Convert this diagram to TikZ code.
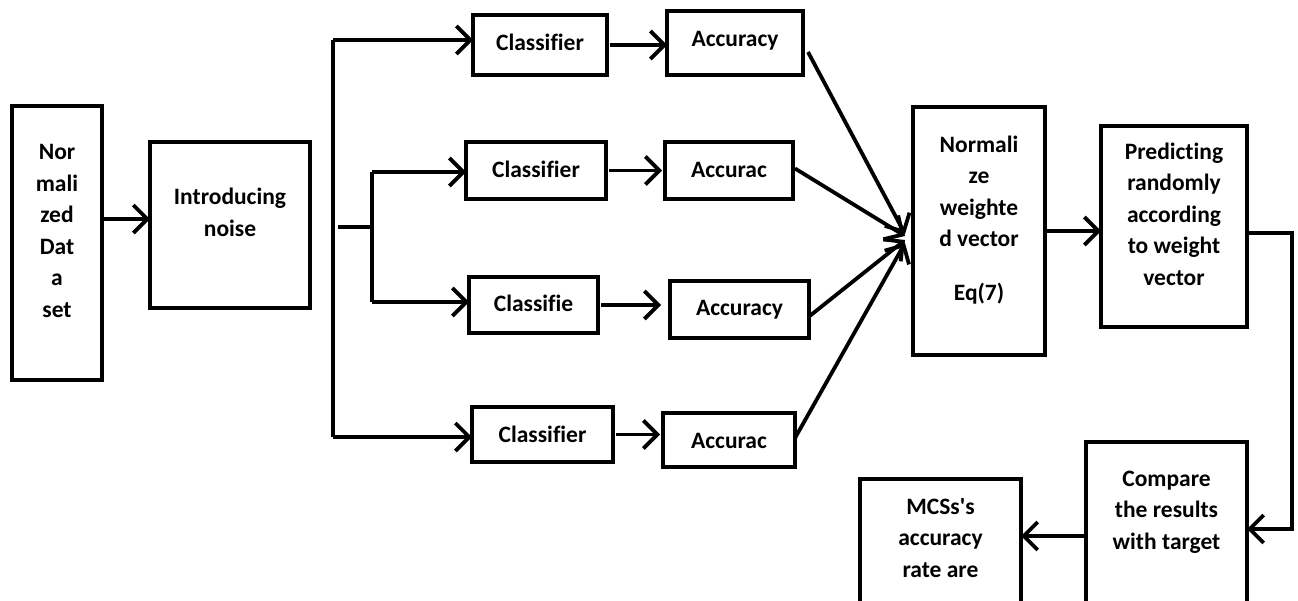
\documentclass[tikz,border=0pt]{standalone}
\usepackage{fontspec}
\setmainfont{Carlito}[Ligatures=NoCommon]
\usetikzlibrary{arrows.meta}
\tikzset{
  stroke/.style={line width=3.8pt, line join=miter},
  box/.style={draw, stroke, rectangle, inner sep=0pt, outer sep=0pt, anchor=north west},
  txt/.style={align=center, inner sep=0pt, anchor=base,
    font=\fontsize{23.5}{31.5}\selectfont\bfseries},
  arr/.style={stroke, -{Straight Barb[length=14pt, width=28pt, line width=3.8pt]}},
}
\begin{document}
\begin{tikzpicture}[x=1pt, y=-1pt]
\useasboundingbox (0,0) rectangle (1298,600);

% boxes (top-left corner, width, height)
\node[box, minimum width=90pt,  minimum height=274pt] (nds)   at (12,106)   {};
\node[box, minimum width=160pt, minimum height=166pt] (noise) at (150,142)  {};
\node[box, minimum width=134pt, minimum height=60pt]  (c1)    at (473,15)   {};
\node[box, minimum width=136pt, minimum height=64pt]  (a1)    at (667,11)   {};
\node[box, minimum width=140pt, minimum height=57pt]  (c2)    at (466,142)  {};
\node[box, minimum width=128pt, minimum height=57pt]  (a2)    at (665,142)  {};
\node[box, minimum width=129pt, minimum height=56pt]  (c3)    at (469,277)  {};
\node[box, minimum width=139pt, minimum height=57pt]  (a3)    at (670,281)  {};
\node[box, minimum width=141pt, minimum height=55pt]  (c4)    at (472,407)  {};
\node[box, minimum width=132pt, minimum height=54pt]  (a4)    at (663,413)  {};
\node[box, minimum width=132pt, minimum height=248pt] (norm)  at (913,107)  {};
\node[box, minimum width=146pt, minimum height=201pt] (pred)  at (1101,126) {};
\node[box, minimum width=161pt, minimum height=180pt] (comp)  at (1086,442) {};
\node[box, minimum width=161pt, minimum height=140pt] (mcs)   at (860,479)  {};

% labels, placed by the baseline of their last line
\node[txt] (tnds)   at (nds.center   |- 0,317) {Nor\\mali\\zed\\Dat\\a\\set};
\node[txt] (tnoise) at (noise.center |- 0,236) {Introducing\\noise};
\node[txt] (tc1)    at (c1.center    |- 0,50)  {Classifier};
\node[txt] (ta1)    at (a1.center    |- 0,46)  {Accuracy};
\node[txt] (tc2)    at (c2.center    |- 0,177) {Classifier};
\node[txt] (ta2)    at (a2.center    |- 0,177) {Accurac};
\node[txt] (tc3)    at (c3.center    |- 0,311) {Classifie};
\node[txt] (ta3)    at (a3.center    |- 0,315) {Accuracy};
\node[txt] (tc4)    at (c4.center    |- 0,442) {Classifier};
\node[txt] (ta4)    at (a4.center    |- 0,448) {Accurac};
\node[txt] (tnorm)  at (norm.center  |- 0,300) {Normali\\ze\\weighte\\d vector\\[22pt]Eq(7)};
\node[txt] (tpred)  at (pred.center  |- 0,285) {Predicting\\randomly\\according\\to weight\\vector};
\node[txt] (tcomp)  at (comp.center  |- 0,549) {Compare\\the results\\with target};
\node[txt] (tmcs)   at (mcs.center   |- 0,577) {MCSs\textquotesingle s\\accuracy\\rate are};

% junction points of the branching lines
\coordinate (tl) at (333,40);
\coordinate (bl) at (333,437);
\coordinate (ml) at (338,227);
\coordinate (mj) at (372,227);
\coordinate (mt) at (372,172);
\coordinate (mb) at (372,302);
\coordinate (r1) at (1292,233);
\coordinate (r2) at (1292,529);

% data set to noise
\draw[arr] (nds.east |- 0,219) -- (noise.west |- 0,219);

% outer branch
\draw[stroke] (tl) -- (bl);
\draw[arr] (tl) -- (c1.west |- tl);
\draw[arr] (bl) -- (c4.west |- bl);

% inner branch
\draw[stroke] (ml) -- (mj);
\draw[stroke] (mt) -- (mb);
\draw[arr] (mt) -- (c2.west |- mt);
\draw[arr] (mb) -- (c3.west |- mb);

% classifier to accuracy
\draw[arr] ([xshift=3pt]c1.east) -- (a1.west |- c1.east);
\draw[arr] ([xshift=3pt]c2.east) -- ([xshift=-3pt]a2.west |- c2.east);
\draw[arr] ([xshift=3pt]c3.east) -- ([xshift=-9pt]a3.west |- c3.east);
\draw[arr] ([xshift=3pt]c4.east) -- ([xshift=-3pt]a4.west |- c4.east);

% accuracies into the weight vector
\draw[arr] ([shift={(5,9)}]a1.east)  -- ([shift={(-8,3)}]norm.west);
\draw[arr] ([shift={(2,-2)}]a2.east) -- ([shift={(-8,5)}]norm.west);
\draw[arr] ([shift={(0,7)}]a3.east)  -- ([shift={(-8,9)}]norm.west);
\draw[arr] ([shift={(0,-2)}]a4.east) -- ([shift={(-8,12)}]norm.west);

% weight vector onwards
\draw[arr] (norm.east) -- (pred.west |- norm.east);
\draw[arr] (pred.east |- r1) -- (r1) -- (r2) -- (comp.east |- r2);
\draw[arr] (comp.west |- 0,536) -- (mcs.east |- 0,536);
\end{tikzpicture}
\end{document}
